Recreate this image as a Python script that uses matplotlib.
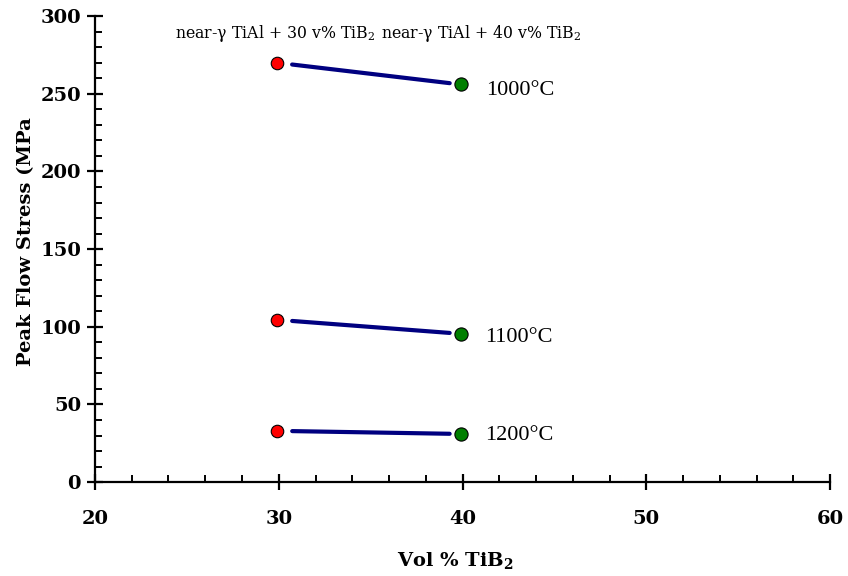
import matplotlib.pyplot as plt
from matplotlib.ticker import MultipleLocator

plt.rcParams['mathtext.fontset'] = 'dejavuserif'

# data
vol = [29.9, 39.9]
temps = ['1000°C', '1100°C', '1200°C']
stress = {
    '1000°C': [270, 256],
    '1100°C': [104.5, 95.5],
    '1200°C': [33, 31],
}
label_pos = {
    '1000°C': (41.3, 252),
    '1100°C': (41.2, 93),
    '1200°C': (41.2, 30),
}
top_labels = ['near-γ TiAl + 30 v% TiB$_2$', 'near-γ TiAl + 40 v% TiB$_2$']
top_x = [29.8, 41.0]
top_y = 289

fig = plt.figure(figsize=(8.48, 5.76), dpi=100)
ax = fig.add_axes([0.112, 0.163, 0.867, 0.809])

for t in temps:
    y = stress[t]
    ax.annotate('', xy=(vol[1], y[1]), xytext=(vol[0], y[0]),
                arrowprops=dict(arrowstyle='-', color='#000080', lw=3,
                                shrinkA=11, shrinkB=8))
    ax.plot(vol[0], y[0], 'o', ms=9, mfc='#ff0000', mec='black', mew=0.8, zorder=3)
    ax.plot(vol[1], y[1], 'o', ms=9.5, mfc='#007f00', mec='black', mew=0.8, zorder=3)
    ax.text(label_pos[t][0], label_pos[t][1], t, family='Liberation Serif',
            fontsize=16, va='center', ha='left')

for s, xx in zip(top_labels, top_x):
    ax.text(xx, top_y, s, family='DejaVu Serif', fontsize=11.3, ha='center', va='center')

ax.set_xlim(20, 60)
ax.set_ylim(0, 300)
ax.xaxis.set_major_locator(MultipleLocator(10))
ax.xaxis.set_minor_locator(MultipleLocator(2))
ax.yaxis.set_major_locator(MultipleLocator(50))
ax.yaxis.set_minor_locator(MultipleLocator(10))

for side in ['top', 'right']:
    ax.spines[side].set_visible(False)
for side in ['left', 'bottom']:
    ax.spines[side].set_linewidth(1.6)

ax.tick_params(which='major', direction='inout', length=12, width=1.6)
ax.tick_params(which='minor', direction='in', length=5, width=1.4)
ax.tick_params(axis='x', which='major', pad=14)
ax.tick_params(axis='y', which='major', pad=4)
for lab in ax.get_xticklabels() + ax.get_yticklabels():
    lab.set_family('DejaVu Serif')
    lab.set_fontweight('bold')
    lab.set_fontsize(14)

ax.set_xlabel('Vol % TiB$_\\mathbf{2}$', family='DejaVu Serif', fontweight='bold', fontsize=14)
ax.set_ylabel('Peak Flow Stress (MPa', family='DejaVu Serif', fontweight='bold', fontsize=14)
ax.xaxis.set_label_coords(0.49, -0.145)
ax.yaxis.set_label_coords(-0.081, 0.517)

fig.savefig('out.png', dpi=100)
